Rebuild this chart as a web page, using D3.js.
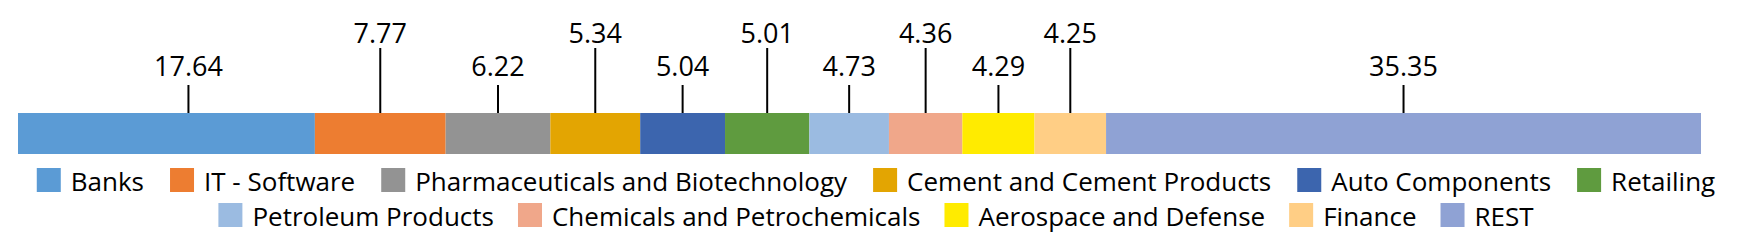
<!DOCTYPE html>
<html>
<head>
<meta charset="utf-8">
<script src="https://cdn.jsdelivr.net/npm/d3@7"></script>
<style>
  body { margin: 0; background: #fff; }
  text { font-family: "Open Sans", sans-serif; fill: #000; }
</style>
</head>
<body>
<div id="chart"></div>
<script>
// sector weights (%)
var sectors = ["Banks", "IT - Software", "Pharmaceuticals and Biotechnology", "Cement and Cement Products",
  "Auto Components", "Retailing", "Petroleum Products", "Chemicals and Petrochemicals",
  "Aerospace and Defense", "Finance", "REST"];
var weights = [17.64, 7.77, 6.22, 5.34, 5.04, 5.01, 4.73, 4.36, 4.29, 4.25, 35.35];
var colors = ["#5B9BD5", "#ED7D31", "#939393", "#E3A502", "#3C65AE", "#5F9B3F",
  "#9BBBE1", "#F0A78A", "#FFEB00", "#FFCE85", "#8FA2D4"];
var legendRow1 = 6; // items on first legend row

var width = 1739, height = 241;

//Make an SVG Container
var svg = d3.select("#chart").append("svg")
  .attr("width", width)
  .attr("height", height);

var x = d3.scaleLinear().domain([0, d3.sum(weights)]).range([18, 1701]);
var barTop = 113, barH = 41;

var starts = [];
var acc = 0;
weights.forEach(function (w) { starts.push(acc); acc += w; });

//Draw the bar segments
svg.selectAll("rect.seg").data(weights).enter().append("rect")
  .attr("class", "seg")
  .attr("x", function (d, i) { return x(starts[i]); })
  .attr("y", barTop)
  .attr("width", function (d, i) { return x(starts[i] + d) - x(starts[i]); })
  .attr("height", barH)
  .style("fill", function (d, i) { return colors[i]; });

//Labels with leader lines, alternating heights
function labelX(d, i) {
  var cx = x(starts[i] + d / 2);
  if (i === 0) cx += 22; // first label sits right of centre in the original
  return cx;
}
svg.selectAll("line.lead").data(weights).enter().append("line")
  .attr("x1", labelX).attr("x2", labelX)
  .attr("y1", barTop)
  .attr("y2", function (d, i) { return i % 2 ? 48 : 85; })
  .attr("stroke", "#000")
  .attr("stroke-width", 2);

svg.selectAll("text.val").data(weights).enter().append("text")
  .attr("x", labelX)
  .attr("y", function (d, i) { return i % 2 ? 43 : 76; })
  .attr("text-anchor", "middle")
  .style("font-size", "27px")
  .text(function (d) { return d.toFixed(2); });

//Legend, two centred rows
var rows = [sectors.slice(0, legendRow1), sectors.slice(legendRow1)];
var rowY = [168, 203];
var sq = 24, gapText = 10, gapItem = [26, 24], centre = 876;

rows.forEach(function (names, r) {
  var g = svg.append("g");
  var offset = r === 0 ? 0 : legendRow1;
  var cursor = 0;
  names.forEach(function (name, j) {
    var item = g.append("g").attr("transform", "translate(" + cursor + ",0)");
    item.append("rect")
      .attr("x", 0).attr("y", rowY[r])
      .attr("width", sq).attr("height", sq)
      .style("fill", colors[offset + j]);
    var t = item.append("text")
      .attr("x", sq + gapText)
      .attr("y", rowY[r] + sq - 1)
      .style("font-size", "26px")
      .text(name);
    cursor += sq + gapText + t.node().getComputedTextLength() + gapItem[r];
  });
  var total = cursor - gapItem[r];
  g.attr("transform", "translate(" + (centre - total / 2) + ",0)");
});
</script>
</body>
</html>
